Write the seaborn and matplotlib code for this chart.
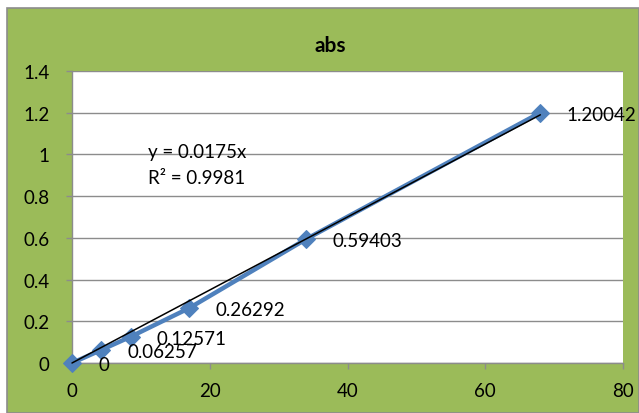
import matplotlib
matplotlib.use("Agg")
import matplotlib.pyplot as plt
import seaborn as sns
import pandas as pd
import numpy as np
from matplotlib.patches import Rectangle

# Concentration (x) and absorbance (y)
conc = [0, 4.25, 8.5, 17, 34, 68]
absorbance = [0, 0.06257, 0.12571, 0.26292, 0.59403, 1.20042]
slope = 0.0175
r_squared = 0.9981
x_ticks = [0, 20, 40, 60, 80]
y_ticks = [0, 0.2, 0.4, 0.6, 0.8, 1.0, 1.2, 1.4]
y_tick_labels = ["0", "0.2", "0.4", "0.6", "0.8", "1", "1.2", "1.4"]

sns.set_theme(style="white")
plt.rcParams["font.family"] = ["Lato", "DejaVu Sans"]
plt.rcParams["text.color"] = "black"

W, H = 639, 414
fig = plt.figure(figsize=(W / 100, H / 100), dpi=100, facecolor="white")

# Green chart area with a thin grey border
green = "#9BBB59"
fig.patches.append(Rectangle((7 / W, 0), (W - 7) / W, (H - 9) / H,
                             transform=fig.transFigure, facecolor=green,
                             edgecolor="#8C8C8C", linewidth=1.2, zorder=-10))

left, right, top, bottom = 72, 623, 72, 364
ax = fig.add_axes([left / W, (H - bottom) / H, (right - left) / W, (bottom - top) / H])
ax.set_facecolor("white")

df = pd.DataFrame({"conc": conc, "abs": absorbance})
sns.lineplot(data=df, x="conc", y="abs", ax=ax, color="#4F81BD", linewidth=3.2,
             marker="D", markersize=9.5, markeredgecolor="#4F81BD", zorder=3,
             clip_on=False)

# Linear trendline through the origin
xs = np.array([min(conc), max(conc)])
ax.plot(xs, slope * xs, color="black", linewidth=1.1, zorder=4, clip_on=False)

# Data labels to the right of each point
for x, y in zip(conc, absorbance):
    ax.annotate(f"{y:g}", (x, y), xytext=(19, -1), textcoords="offset points",
                va="center", ha="left", fontsize=13.5, color="black", zorder=5,
                annotation_clip=False)

# Trendline equation
fig.text(148 / W, (H - 153) / H, f"y = {slope}x", fontsize=13.5, va="center", ha="left")
fig.text(148 / W, (H - 179) / H, f"R² = {r_squared}", fontsize=13.5, va="center", ha="left")

ax.set_xlim(0, 80)
ax.set_ylim(0, 1.4)
ax.set_xticks(x_ticks)
ax.set_yticks(y_ticks)
ax.set_yticklabels(y_tick_labels)
ax.set_xlabel("")
ax.set_ylabel("")
ax.grid(axis="y", color="#8C8C8C", linewidth=1.0)
ax.grid(axis="x", visible=False)
ax.set_axisbelow(True)
for side in ["top", "right"]:
    ax.spines[side].set_visible(False)
for side in ["left", "bottom"]:
    ax.spines[side].set_color("#8C8C8C")
    ax.spines[side].set_linewidth(1.0)
ax.tick_params(axis="both", which="both", direction="out", length=4, width=1.0,
               color="#8C8C8C", labelsize=13.5, labelcolor="black")
ax.tick_params(axis="x", pad=10, bottom=True)
ax.tick_params(axis="y", pad=12, left=True)

fig.text(330 / W, (H - 46) / H, "abs", fontsize=15, fontweight="bold",
         ha="center", va="center")

fig.savefig("out.png", dpi=100, facecolor="white")
